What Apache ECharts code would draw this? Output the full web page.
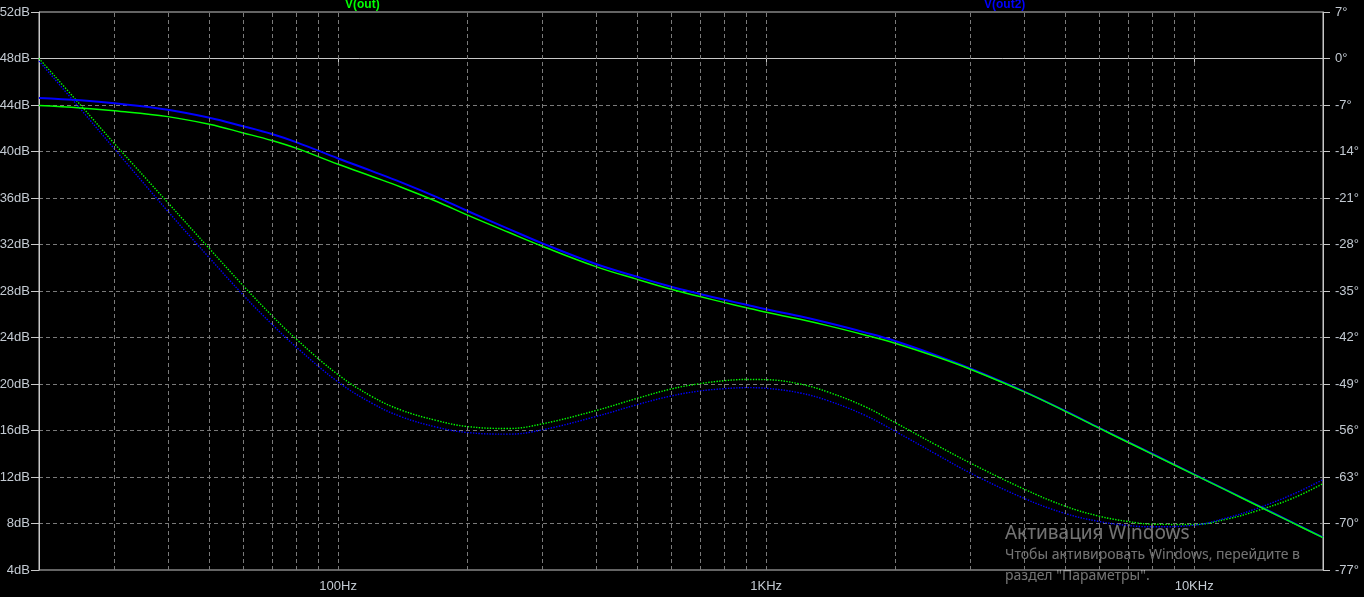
<!DOCTYPE html>
<html>
<head>
<meta charset="utf-8">
<script src="https://cdn.jsdelivr.net/npm/echarts@6/dist/echarts.min.js"></script>
<style>
html,body{margin:0;padding:0;background:#000;}
#chart{width:1364px;height:597px;}
</style>
</head>
<body>
<div id="chart"></div>
<script>
// Frequencies (Hz)
const freqHz = [20, 25, 30, 40, 50, 60, 70, 80, 100, 120, 140, 170, 200, 250, 300, 400, 500, 600, 700, 800, 900, 1000, 1200, 1400, 1700, 2000, 2500, 3000, 4000, 5000, 6000, 7000, 8000, 10000, 12000, 14000, 17000, 20000];
// Magnitude (dB)
const voutMagDb  = [43.95, 43.75, 43.5, 43.0, 42.34, 41.6, 40.95, 40.27, 38.9, 37.85, 36.95, 35.7, 34.55, 33.05, 31.85, 30.1, 29.0, 28.15, 27.52, 27.0, 26.56, 26.17, 25.57, 25.0, 24.22, 23.5, 22.34, 21.27, 19.34, 17.65, 16.2, 14.99, 13.95, 12.2, 10.78, 9.57, 8.05, 6.78];
const vout2MagDb = [44.6, 44.4, 44.15, 43.6, 42.91, 42.17, 41.5, 40.79, 39.4, 38.31, 37.37, 36.08, 34.9, 33.35, 32.1, 30.32, 29.22, 28.37, 27.75, 27.24, 26.81, 26.43, 25.82, 25.24, 24.44, 23.7, 22.46, 21.33, 19.37, 17.68, 16.23, 15.02, 13.98, 12.23, 10.81, 9.6, 8.08, 6.81];
// Phase (degrees)
const voutPhaseDeg  = [0.0, -7.0, -12.8, -21.7, -28.6, -34.2, -38.7, -42.3, -47.6, -50.9, -52.9, -54.5, -55.4, -55.7, -55.0, -53.0, -51.15, -49.75, -48.95, -48.5, -48.32, -48.35, -49.0, -50.25, -52.4, -54.8, -58.2, -60.9, -64.8, -67.4, -68.9, -69.7, -70.1, -70.15, -69.3, -68.1, -66.2, -64.0];
const vout2PhaseDeg = [-0.4, -7.6, -13.6, -23.0, -30.0, -35.6, -40.0, -43.5, -48.7, -51.9, -53.9, -55.5, -56.3, -56.55, -55.9, -53.9, -52.1, -50.8, -50.05, -49.7, -49.55, -49.65, -50.35, -51.55, -53.7, -56.1, -59.6, -62.4, -66.2, -68.5, -69.7, -70.3, -70.5, -70.25, -69.1, -67.75, -65.6, -63.4];
// Vertical grid frequencies
const gridFreqs = [30, 40, 50, 60, 70, 80, 90, 100, 200, 300, 400, 500, 600, 700, 800, 900, 1000, 2000, 3000, 4000, 5000, 6000, 7000, 8000, 9000, 10000];
// X tick labels
const xTickValues = [100, 1000, 10000];
const xTickLabels = ['100Hz', '1KHz', '10KHz'];
// Trace names
const traceNames = ['V(out)', 'V(out2)'];

const zip = (xs, ys) => xs.map((x, i) => [x, ys[i]]);

const chart = echarts.init(document.getElementById('chart'), null, {renderer: 'canvas'});
const labelColor = '#c3cad2';
const axisColor = '#c8c8c8';
const gridColor = '#7a7a7a';
const font = '"Liberation Sans", Arial, sans-serif';
const wmFont = '"Noto Sans", "Open Sans", sans-serif';
const wmColor = 'rgba(255,255,255,0.45)';

const option = {
  backgroundColor: '#000000',
  animation: false,
  title: [
    {text: traceNames[0], left: 340, top: -6, textStyle: {color: '#00ff00', fontSize: 12, fontWeight: 'bold', fontFamily: font}},
    {text: traceNames[1], left: 979, top: -6, textStyle: {color: '#0000ff', fontSize: 12, fontWeight: 'bold', fontFamily: font}}
  ],
  grid: {left: 39, right: 41, top: 12, bottom: 27, show: true, borderColor: axisColor, borderWidth: 1, backgroundColor: 'transparent', containLabel: false, outerBoundsMode: 'none'},
  xAxis: {
    type: 'log', logBase: 10, min: 20, max: 20000,
    axisLine: {show: true, lineStyle: {color: axisColor, width: 1}},
    axisTick: {show: true, length: 6, lineStyle: {color: axisColor}},
    splitLine: {show: false},
    minorTick: {show: false},
    axisLabel: {
      color: labelColor, fontSize: 13, fontFamily: font, margin: 10,
      showMinLabel: true, showMaxLabel: true,
      formatter: function (v) {
        for (let i = 0; i < xTickValues.length; i++) {
          if (Math.abs(v - xTickValues[i]) / xTickValues[i] < 1e-6) return xTickLabels[i];
        }
        return '';
      }
    }
  },
  yAxis: [
    {
      type: 'value', min: 4, max: 52, interval: 4, position: 'left',
      axisLine: {show: true, lineStyle: {color: axisColor}},
      axisTick: {show: true, length: 8, lineStyle: {color: axisColor}},
      axisLabel: {color: labelColor, fontSize: 13, fontFamily: font, margin: 9, formatter: '{value}dB'},
      splitLine: {show: true, showMinLine: false, showMaxLine: false, lineStyle: {color: gridColor, type: [4, 3], width: 1}}
    },
    {
      type: 'value', min: -77, max: 7, interval: 7, position: 'right',
      axisLine: {show: true, lineStyle: {color: axisColor}},
      axisTick: {show: true, length: 7, lineStyle: {color: axisColor}},
      axisLabel: {color: labelColor, fontSize: 13, fontFamily: font, margin: 12, formatter: '{value}°'},
      splitLine: {show: false}
    }
  ],
  series: [
    {
      name: traceNames[0] + ' phase', type: 'line', yAxisIndex: 1, data: zip(freqHz, voutPhaseDeg),
      showSymbol: false, smooth: 0.4, clip: true,
      lineStyle: {color: '#00ff00', width: 1.4, type: [1.4, 1.4]},
      markLine: {
        silent: true, symbol: ['none', 'none'], animation: false,
        label: {show: false},
        lineStyle: {color: gridColor, type: [4, 3], width: 1},
        data: gridFreqs.map(f => ({xAxis: f}))
      }
    },
    {
      name: traceNames[1] + ' phase', type: 'line', yAxisIndex: 1, data: zip(freqHz, vout2PhaseDeg),
      showSymbol: false, smooth: 0.4, clip: true,
      lineStyle: {color: '#0000ff', width: 1.4, type: [1.4, 1.4]}
    },
    {
      name: traceNames[1], type: 'line', yAxisIndex: 0, data: zip(freqHz, vout2MagDb),
      showSymbol: false, smooth: 0.4, clip: true,
      lineStyle: {color: '#0000ff', width: 2}
    },
    {
      name: traceNames[0], type: 'line', yAxisIndex: 0, data: zip(freqHz, voutMagDb),
      showSymbol: false, smooth: 0.4, clip: true,
      lineStyle: {color: '#00ff00', width: 1.5}
    }
  ],
  graphic: [
    {type: 'text', left: 1005, top: 524, silent: true, style: {text: 'Активация Windows', fill: wmColor, font: '19px ' + wmFont}},
    {type: 'text', left: 1005, top: 548, silent: true, style: {text: 'Чтобы активировать Windows, перейдите в', fill: wmColor, font: '14px ' + wmFont}},
    {type: 'text', left: 1005, top: 569, silent: true, style: {text: 'раздел "Параметры".', fill: wmColor, font: '14px ' + wmFont}}
  ]
};
chart.setOption(option);
</script>
</body>
</html>
